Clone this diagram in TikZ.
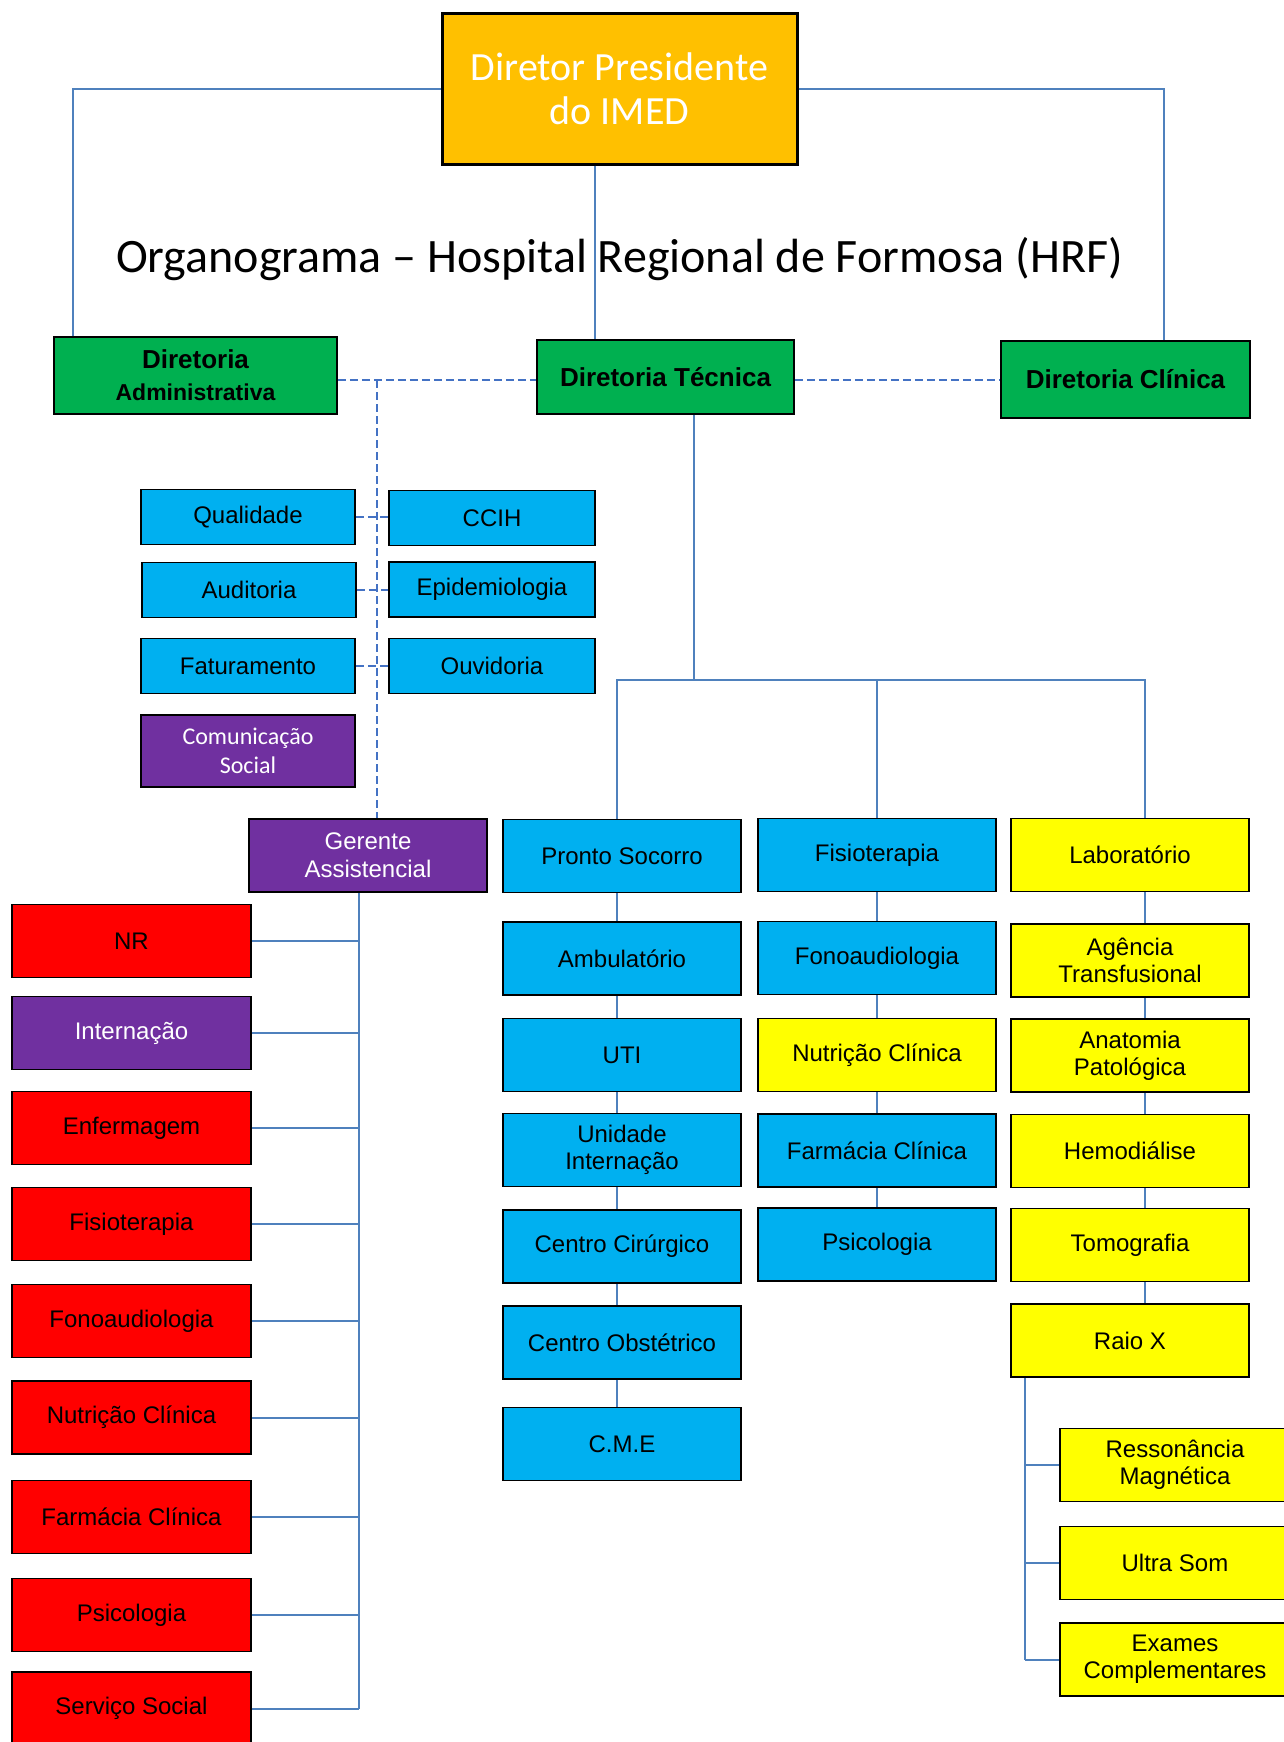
\documentclass[tikz,border=0pt]{standalone}
\usepackage{fontspec}
\setmainfont{Liberation Sans}
\newfontfamily\calibri{Carlito}
\definecolor{corange}{HTML}{FFC000}
\definecolor{cgreen}{HTML}{00B050}
\definecolor{cblue}{HTML}{00B0F0}
\definecolor{cpurple}{HTML}{7030A0}
\definecolor{cred}{HTML}{FF0000}
\definecolor{cyellow}{HTML}{FFFF00}
\definecolor{clink}{HTML}{4F81BD}
\definecolor{cdash}{HTML}{4472C4}

\begin{document}
\begin{tikzpicture}[x=0.5pt,y=-0.5pt,
	box/.style={draw=black,line width=0.8pt,inner sep=0pt,align=center,minimum width=119pt,minimum height=36.5pt,font=\fontsize{12}{13.5}\selectfont},
	bluebox/.style={box,fill=cblue},
	redbox/.style={box,fill=cred,minimum width=119.5pt},
	yelbox/.style={box,fill=cyellow},
	purbox/.style={box,fill=cpurple,text=white},
	grnbox/.style={box,fill=cgreen,font=\bfseries\fontsize{13}{16}\selectfont},
	smallbox/.style={bluebox,minimum width=107pt,minimum height=27.5pt},
	link/.style={draw=clink,line width=1pt},
	dlink/.style={draw=cdash,line width=1.1pt,dash pattern=on 4pt off 2pt}]

\useasboundingbox (0,0) rectangle (1284,1742);
\clip (0,0) rectangle (1284,1742);

% top
\node[draw=black,line width=1.5pt,fill=corange,inner sep=0pt,minimum width=177.5pt,minimum height=75.5pt,align=center,text=white,font=\calibri\fontsize{20}{22}\selectfont] (pres) at (619.5,88.5) {Diretor Presidente\\do IMED};
\node[anchor=base,font=\calibri\fontsize{24}{28}\selectfont] (title) at (619.5,272) {Organograma – Hospital Regional de Formosa (HRF)};

\node[grnbox,minimum width=141.5pt,minimum height=38.5pt] (adm) at (195.5,375.5) {Diretoria\\\fontsize{11.5}{14}\selectfont Administrativa};
\node[grnbox,minimum width=128.5pt,minimum height=37pt] (tec) at (665.5,377) {Diretoria Técnica};
\node[grnbox,minimum width=124.5pt,minimum height=38.5pt] (cli) at (1125.5,379.5) {Diretoria Clínica};

% assessorias
\node[smallbox] (qual) at (248,517) {Qualidade};
\node[smallbox] (aud) at (249,590) {Auditoria};
\node[smallbox] (fat) at (248,666) {Faturamento};
\node[smallbox,minimum width=103pt] (ccih) at (492,518) {CCIH};
\node[smallbox,minimum width=103pt] (epi) at (492,589.5) {Epidemiologia};
\node[smallbox,minimum width=103pt] (ouv) at (492,666) {Ouvidoria};
\node[purbox,minimum width=107pt,minimum height=36pt,font=\calibri\fontsize{12}{14.5}\selectfont] (com) at (248,751) {Comunicação\\Social};

% gerente assistencial
\node[purbox,font=\fontsize{12}{14}\selectfont] (ger) at (368,855.5) {Gerente\\Assistencial};
\foreach \n/\y/\t in {nr/941/NR,enf/1128/Enfermagem,fisr/1224/Fisioterapia,fonor/1321/Fonoaudiologia,nutr/1417.5/Nutrição Clínica,farr/1517/Farmácia Clínica,psir/1615/Psicologia,ss/1708.5/Serviço Social}{
	\node[redbox] (\n) at (131.5,\y) {\t};
}
\node[purbox,minimum width=119.5pt] (int) at (131.5,1033) {Internação};

% diretoria tecnica
\node[bluebox] (ps) at (622,856) {Pronto Socorro};
\node[bluebox] (amb) at (622,958.5) {Ambulatório};
\node[bluebox] (uti) at (622,1055) {UTI};
\node[bluebox] (ui) at (622,1150) {Unidade\\Internação};
\node[bluebox] (ccir) at (622,1246.5) {Centro Cirúrgico};
\node[bluebox] (cobs) at (622,1342.5) {Centro Obstétrico};
\node[bluebox] (cme) at (622,1444) {C.M.E};

\node[bluebox] (fis) at (877,855) {Fisioterapia};
\node[bluebox] (fono) at (877,958) {Fonoaudiologia};
\node[yelbox] (nut) at (877,1055) {Nutrição Clínica};
\node[bluebox] (far) at (877,1150.5) {Farmácia Clínica};
\node[bluebox] (psi) at (877,1244.5) {Psicologia};

\node[yelbox] (lab) at (1130,855) {Laboratório};
\node[yelbox] (agt) at (1130,960.5) {Agência\\Transfusional};
\node[yelbox] (anat) at (1130,1055.5) {Anatomia\\Patológica};
\node[yelbox] (hemo) at (1130,1151) {Hemodiálise};
\node[yelbox] (tomo) at (1130,1245) {Tomografia};
\node[yelbox] (rx) at (1130,1340.5) {Raio X};

\node[yelbox,minimum width=115pt] (res) at (1175,1465) {Ressonância\\Magnética};
\node[yelbox,minimum width=115pt] (us) at (1175,1563) {Ultra Som};
\node[yelbox,minimum width=115pt] (exa) at (1175,1659.5) {Exames\\Complementares};

% ligacoes
\draw[link] (pres.west) -| ([xshift=10pt]adm.north west);
\draw[link] (pres.east) -| ([xshift=-43.5pt]cli.north east);
\draw[link] ([xshift=-12.25pt]pres.south) -- ([xshift=-12.25pt]pres.south |- tec.north);

\coordinate (dh) at (0,380);
\draw[dlink] (adm.east |- dh) -- (tec.west |- dh);
\draw[dlink] (tec.east |- dh) -- (cli.west |- dh);
\coordinate (dv) at (377,380);
\draw[dlink] (dv) -- (dv |- ger.north);
\foreach \a/\b in {qual/ccih,aud/epi,fat/ouv}{
	\draw[dlink] (\a.east) -- (\a.east -| \b.west);
}

\coordinate (bus) at (694,680);
\coordinate (c1) at (617,0);
\coordinate (c3) at (1145,0);
\draw[link] (tec.south -| bus) -- (bus);
\draw[link] (ps.north -| c1) -- (c1 |- bus) -- (c3 |- bus) -- (lab.north -| c3);
\draw[link] (fis.north) -- (fis.north |- bus);

\foreach \a/\b in {ps/amb,amb/uti,uti/ui,ui/ccir,ccir/cobs,cobs/cme}{
	\draw[link] (\a.south -| c1) -- (\b.north -| c1);
}
\foreach \a/\b in {fis/fono,fono/nut,nut/far,far/psi}{
	\draw[link] (\a.south) -- (\b.north);
}
\foreach \a/\b in {lab/agt,agt/anat,anat/hemo,hemo/tomo,tomo/rx}{
	\draw[link] (\a.south -| c3) -- (\b.north -| c3);
}

\coordinate (gt) at (359,0);
\draw[link] (ger.south -| gt) -- (gt |- ss.east);
\foreach \n in {nr,int,enf,fisr,fonor,nutr,farr,psir,ss}{
	\draw[link] (\n.east) -- (\n.east -| gt);
}

\coordinate (rt) at (1025,0);
\draw[link] (rx.south -| rt) -- (rt |- exa.west);
\foreach \n in {res,us,exa}{
	\draw[link] (\n.west) -- (\n.west -| rt);
}
\end{tikzpicture}
\end{document}
